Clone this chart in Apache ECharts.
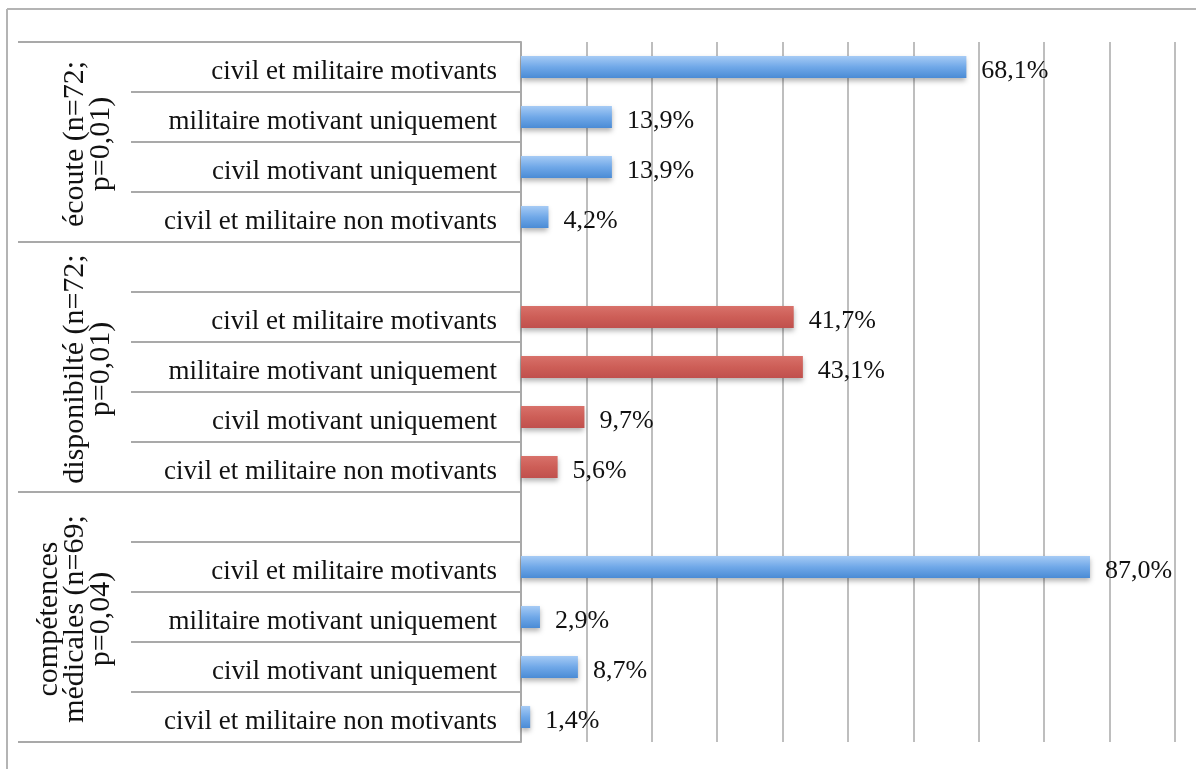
<!DOCTYPE html>
<html>
<head>
<meta charset="utf-8">
<script src="https://cdn.jsdelivr.net/npm/echarts@6/dist/echarts.min.js"></script>
<style>
  html, body { margin: 0; padding: 0; background: #fff; }
  #main { width: 1196px; height: 769px; }
</style>
</head>
<body>
<div id="main"></div>
<script>
// groupes (axe vertical, niveau 1)
const groups = ['écoute (n=72;\np=0,01)', 'disponibilté (n=72;\np=0,01)', 'compétences\nmédicales (n=69;\np=0,04)'];
// lignes (niveau 2), '' = ligne vide en tête de groupe
const categories = [
  'civil et militaire motivants', 'militaire motivant uniquement', 'civil motivant uniquement', 'civil et militaire non motivants',
  '', 'civil et militaire motivants', 'militaire motivant uniquement', 'civil motivant uniquement', 'civil et militaire non motivants',
  '', 'civil et militaire motivants', 'militaire motivant uniquement', 'civil motivant uniquement', 'civil et militaire non motivants'
];
const groupOf = [0, 0, 0, 0, 1, 1, 1, 1, 1, 2, 2, 2, 2, 2];
const values = [68.1, 13.9, 13.9, 4.2, null, 41.7, 43.1, 9.7, 5.6, null, 87.0, 2.9, 8.7, 1.4];

const FONT = 'Liberation Serif';
const blue = new echarts.graphic.LinearGradient(0, 0, 0, 1, [
  {offset: 0, color: '#a6cbf5'}, {offset: 0.5, color: '#70a8e8'}, {offset: 1, color: '#4a8bd5'}
]);
const red = new echarts.graphic.LinearGradient(0, 0, 0, 1, [
  {offset: 0, color: '#d8716a'}, {offset: 0.5, color: '#cd5e57'}, {offset: 1, color: '#c0504d'}
]);

let myChart = echarts.init(document.getElementById('main'));

let option = {
  animation: false,
  grid: {left: 521, top: 42, width: 654, height: 700, containLabel: false},
  xAxis: {
    type: 'value',
    min: 0,
    max: 100,
    interval: 10,
    axisLabel: {show: false},
    axisLine: {show: false},
    axisTick: {show: false},
    splitLine: {lineStyle: {color: '#a9a9a9', width: 1.5}}
  },
  yAxis: {
    type: 'category',
    inverse: true,
    data: categories,
    axisLine: {show: true, lineStyle: {color: '#a9a9a9', width: 2}},
    axisTick: {show: true, length: 390, lineStyle: {color: '#a9a9a9', width: 2}},
    axisLabel: {
      interval: 0,
      margin: 24,
      formatter: v => v ? '{c|' + v + '}' : '',
      rich: {
        c: {
          padding: [10, 0, 0, 0],
          fontFamily: FONT,
          fontSize: 27,
          color: '#111'
        }
      }
    }
  },
  series: [{
    type: 'bar',
    barWidth: 22,
    data: values.map((v, i) => ({
      value: v,
      itemStyle: {color: groupOf[i] === 1 ? red : blue}
    })),
    itemStyle: {
      shadowColor: 'rgba(0,0,0,0.3)',
      shadowBlur: 5,
      shadowOffsetY: 3
    },
    label: {
      show: true,
      position: 'right',
      distance: 15,
      offset: [0, 4],
      fontFamily: FONT,
      fontSize: 26,
      color: '#111',
      formatter: p => p.value == null ? '' : p.value.toFixed(1).replace('.', ',') + '%'
    }
  }]
};
myChart.setOption(option);

// séparateurs de groupes et libellés de groupes
function drawGroups() {
  const y0 = myChart.convertToPixel({yAxisIndex: 0}, 0);
  const y1 = myChart.convertToPixel({yAxisIndex: 0}, 1);
  const band = y1 - y0;
  let elements = [];
  // cadre
  elements.push({type: 'line', shape: {x1: 7, y1: 9, x2: 1196, y2: 9}, style: {stroke: '#b4b4b4', lineWidth: 2}});
  elements.push({type: 'line', shape: {x1: 7, y1: 9, x2: 7, y2: 769}, style: {stroke: '#b4b4b4', lineWidth: 2}});
  for (let g = 0; g < groups.length; g++) {
    const first = groupOf.indexOf(g);
    const last = groupOf.lastIndexOf(g);
    const top = myChart.convertToPixel({yAxisIndex: 0}, first) - band / 2;
    const bottom = myChart.convertToPixel({yAxisIndex: 0}, last) + band / 2;
    elements.push({type: 'line', shape: {x1: 18, y1: top, x2: 521, y2: top}, style: {stroke: '#a9a9a9', lineWidth: 2}});
    if (g === groups.length - 1) {
      elements.push({type: 'line', shape: {x1: 18, y1: bottom, x2: 521, y2: bottom}, style: {stroke: '#a9a9a9', lineWidth: 2}});
    }
    elements.push({
      type: 'text',
      x: 114,
      y: (top + bottom) / 2 + 2,
      rotation: Math.PI / 2,
      style: {
        text: groups[g],
        fontFamily: FONT,
        fontSize: 30,
        lineHeight: 26,
        fill: '#111',
        align: 'center',
        verticalAlign: 'bottom'
      }
    });
  }
  myChart.setOption({graphic: elements});
}
drawGroups();
window.onresize = myChart.resize;
</script>
</body>
</html>
